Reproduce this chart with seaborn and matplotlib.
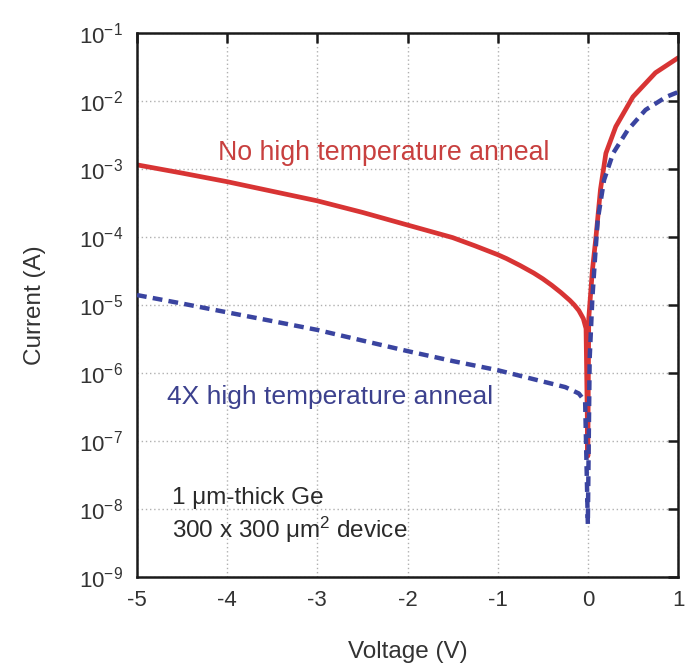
import numpy as np
import pandas as pd
import matplotlib
matplotlib.use("Agg")
import matplotlib.pyplot as plt
import seaborn as sns

# I-V characteristics of a Ge photodiode, |I| on a log scale
v_no_anneal = [-5.0, -4.5, -4.0, -3.5, -3.0, -2.5, -2.0, -1.5, -1.25, -1.0, -0.9,
               -0.75, -0.6, -0.5, -0.4, -0.3, -0.2, -0.15, -0.1, -0.05, -0.02,
               0.0, 0.01, 0.05, 0.09, 0.14, 0.2, 0.31, 0.5, 0.75, 1.0]
i_no_anneal = [1.15e-3, 8.7e-4, 6.5e-4, 4.7e-4, 3.4e-4, 2.3e-4, 1.5e-4, 9.8e-5,
               7.4e-5, 5.5e-5, 4.8e-5, 3.8e-5, 2.95e-5, 2.43e-5, 1.95e-5, 1.53e-5,
               1.17e-5, 1.0e-5, 8.3e-6, 6.3e-6, 4.5e-6, 6.0e-8, 6.3e-6, 3.2e-5,
               1.0e-4, 5.0e-4, 1.7e-3, 4.2e-3, 1.15e-2, 2.6e-2, 4.3e-2]

v_4x_anneal = [-5.0, -4.5, -4.0, -3.5, -3.0, -2.5, -2.0, -1.5, -1.0, -0.6, -0.25,
               -0.1, -0.03, 0.0, 0.02, 0.05, 0.08, 0.11, 0.18, 0.28, 0.44, 0.64,
               0.87, 1.0]
i_4x_anneal = [1.4e-5, 1.05e-5, 7.8e-6, 5.8e-6, 4.3e-6, 3.0e-6, 2.1e-6, 1.5e-6,
               1.1e-6, 8.1e-7, 6.2e-7, 5.0e-7, 3.8e-7, 6.0e-9, 1.6e-6, 1.25e-5,
               5.0e-5, 1.8e-4, 6.9e-4, 1.7e-3, 3.7e-3, 7.4e-3, 1.15e-2, 1.35e-2]

y_ticks = [1e-9, 1e-8, 1e-7, 1e-6, 1e-5, 1e-4, 1e-3, 1e-2, 1e-1]
y_tick_labels = ["10$^{-9}$", "10$^{-8}$", "10$^{-7}$", "10$^{-6}$", "10$^{-5}$",
                 "10$^{-4}$", "10$^{-3}$", "10$^{-2}$", "10$^{-1}$"]
x_ticks = [-5, -4, -3, -2, -1, 0, 1]
x_tick_labels = ["-5", "-4", "-3", "-2", "-1", "0", "1"]

df_no = pd.DataFrame({"Voltage": v_no_anneal, "Current": i_no_anneal})
df_4x = pd.DataFrame({"Voltage": v_4x_anneal, "Current": i_4x_anneal})

sns.set_style("white")
plt.rcParams["font.family"] = ["Liberation Sans", "DejaVu Sans"]
plt.rcParams["mathtext.fontset"] = "custom"
plt.rcParams["mathtext.rm"] = "Liberation Sans"
plt.rcParams["mathtext.it"] = "Liberation Sans:italic"
plt.rcParams["mathtext.default"] = "regular"

fig = plt.figure(figsize=(6.85, 6.66), dpi=100)
ax = fig.add_axes([0.2, 0.1336, 0.7898, 0.8169])

red = "#d83434"
blue = "#3a44a0"

sns.lineplot(data=df_no, x="Voltage", y="Current", ax=ax, color=red,
             linewidth=3.4, sort=False, estimator=None)
sns.lineplot(data=df_4x, x="Voltage", y="Current", ax=ax, color=blue,
             linewidth=3.2, sort=False, estimator=None, dashes=False)
ax.lines[-1].set_dashes([2.2, 1.4])
ax.lines[-1].set_zorder(3)

ax.set_yscale("log")
ax.set_xlim(-5, 1)
ax.set_ylim(1e-9, 1e-1)
ax.set_yticks(y_ticks)
ax.set_yticklabels(y_tick_labels)
ax.set_xticks(x_ticks)
ax.set_xticklabels(x_tick_labels)
ax.minorticks_off()

ax.grid(True, which="major", color="#b0b0b0", linestyle=(0, (1, 2)), linewidth=1.0)
ax.set_axisbelow(True)

for s in ax.spines.values():
    s.set_color("#1a1a1a")
    s.set_linewidth(1.8)

ax.tick_params(axis="both", which="major", direction="in", length=7, width=1.8,
               top=True, right=True, labelsize=16, colors="#1a1a1a",
               labelcolor="#333333")
ax.tick_params(axis="y", pad=10)
ax.tick_params(axis="x", pad=9)

ax.set_xlabel("Voltage (V)", fontsize=17.5, color="#333333", labelpad=22)
ax.set_ylabel("Current (A)", fontsize=17.5, color="#333333", labelpad=24)

ax.text(-2.26, 1.7e-3, "No high temperature anneal", color="#c8403f",
        fontsize=19.3, ha="center", va="center")
ax.text(-2.86, 4.5e-7, "4X high temperature anneal", color="#3c418e",
        fontsize=19, ha="center", va="center")
ax.text(-4.61, 1.45e-8, "1 \u03bcm-thick Ge", color="#2a2a2a", fontsize=17.5,
        ha="left", va="center")
ax.text(-4.61, 4.9e-9, "300 x 300 \u03bcm$^{2}$ device", color="#2a2a2a",
        fontsize=17.5, ha="left", va="center")

fig.savefig("out.png", dpi=100)
